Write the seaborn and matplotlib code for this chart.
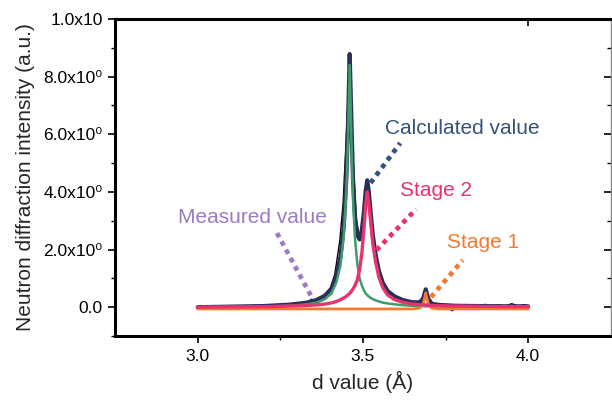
import matplotlib
matplotlib.use("Agg")
import matplotlib.pyplot as plt
import seaborn as sns
import pandas as pd

# ---------------- data ----------------
x_meas = [3.00, 3.01, 3.02, 3.03, 3.05, 3.07, 3.09, 3.11, 3.13, 3.15, 3.17, 3.19, 3.21, 3.23,
          3.25, 3.27, 3.29, 3.31, 3.33, 3.345, 3.355, 3.365, 3.375, 3.385, 3.40, 3.415, 3.43,
          3.44, 3.45, 3.46, 3.47, 3.48, 3.49, 3.50, 3.51, 3.52, 3.53, 3.545, 3.56, 3.58, 3.60,
          3.62, 3.64, 3.66, 3.675, 3.685, 3.69, 3.70, 3.71, 3.73, 3.75, 3.77, 3.79, 3.81, 3.83,
          3.85, 3.87, 3.89, 3.91, 3.93, 3.95, 3.97, 3.99, 4.00]
y_meas = [0.02, 0.06, -0.03, 0.04, -0.02, 0.03, -0.05, 0.02, -0.06, 0.01, -0.04, 0.03, -0.05, 0.02,
          -0.03, 0.05, 0.02, 0.06, 0.10, 0.28, 0.12, 0.20, 0.22, 0.30, 0.60, 1.15, 2.30,
          3.60, 6.00, 8.60, 5.20, 3.00, 2.40, 3.10, 4.30, 3.70, 2.60, 1.50, 0.90, 0.45, 0.28,
          0.18, 0.15, 0.12, 0.15, 0.40, 0.60, 0.25, 0.12, 0.08, 0.04, -0.12, 0.05, 0.02, 0.06,
          0.02, 0.10, 0.03, 0.08, 0.04, 0.12, 0.05, 0.09, 0.03]

x_fit = [3.00, 3.10, 3.20, 3.28, 3.33, 3.36, 3.385, 3.405, 3.42, 3.432, 3.442, 3.45, 3.455, 3.46,
         3.465, 3.47, 3.476, 3.483, 3.49, 3.497, 3.503, 3.508, 3.513, 3.518, 3.524, 3.53, 3.538,
         3.548, 3.56, 3.575, 3.595, 3.62, 3.65, 3.672, 3.682, 3.69, 3.698, 3.708, 3.73, 3.78,
         3.85, 3.95, 4.00]
y_calc = [0.00, 0.02, 0.04, 0.09, 0.16, 0.25, 0.40, 0.65, 1.10, 1.75, 2.80, 4.50, 6.40, 8.78,
          6.55, 4.45, 3.15, 2.50, 2.35, 2.70, 3.30, 4.00, 4.40, 4.00, 3.20, 2.50, 1.85,
          1.27, 0.85, 0.56, 0.38, 0.25, 0.17, 0.17, 0.30, 0.62, 0.30, 0.12, 0.08, 0.05,
          0.04, 0.03, 0.03]
y_stage3 = [0.00, 0.01, 0.02, 0.05, 0.10, 0.16, 0.28, 0.48, 0.88, 1.45, 2.45, 4.05, 5.90, 8.40,
            5.90, 3.75, 2.40, 1.50, 1.00, 0.75, 0.58, 0.48, 0.42, 0.37, 0.32, 0.28, 0.24,
            0.20, 0.16, 0.13, 0.10, 0.07, 0.05, 0.04, 0.04, 0.03, 0.03, 0.03, 0.03, 0.02,
            0.02, 0.01, 0.01]
y_stage2 = [0.00, 0.01, 0.02, 0.04, 0.06, 0.08, 0.11, 0.15, 0.20, 0.26, 0.32, 0.38, 0.43, 0.48,
            0.55, 0.63, 0.75, 0.95, 1.30, 1.90, 2.70, 3.50, 4.00, 3.60, 2.90, 2.20, 1.60,
            1.05, 0.68, 0.42, 0.27, 0.17, 0.11, 0.09, 0.08, 0.08, 0.07, 0.06, 0.05, 0.04,
            0.03, 0.02, 0.02]
y_stage1 = [-0.06, -0.06, -0.06, -0.06, -0.06, -0.06, -0.06, -0.06, -0.06, -0.06, -0.06, -0.06,
            -0.06, -0.06, -0.06, -0.06, -0.06, -0.06, -0.06, -0.06, -0.06, -0.06, -0.06, -0.06,
            -0.06, -0.06, -0.06, -0.06, -0.06, -0.06, -0.06, -0.06, -0.06, -0.03, 0.10, 0.50,
            0.10, -0.03, -0.06, -0.06, -0.06, -0.06, -0.06]

labels = ["Measured value", "Calculated value", "Stage 2", "Stage 1"]
label_xy = [(3.165, 3.1), (3.80, 6.2), (3.72, 4.06), (3.865, 2.26)]
leader_x = [(3.240, 3.345), (3.523, 3.613), (3.541, 3.661), (3.706, 3.802)]
leader_y = [(2.57, 0.35), (4.31, 5.69), (1.98, 3.40), (0.35, 1.63)]

y_ticks = [0, 2, 4, 6, 8, 10]
y_ticklabels = ["0.0", "2.0x10\u2070", "4.0x10\u2070", "6.0x10\u2070", "8.0x10\u2070", "1.0x10"]
x_ticks = [3.0, 3.5, 4.0]
x_ticklabels = ["3.0", "3.5", "4.0"]

# ---------------- style ----------------
sns.set_style("ticks")
plt.rcParams["font.family"] = ["Liberation Sans", "DejaVu Sans"]

C_MEAS = "#9b7bc4"
C_CALC = "#2b2e57"
C_CALC_TXT = "#35527f"
C_S3 = "#3d9b6c"
C_S2 = "#e8336c"
C_S1 = "#f27a30"
label_colors = [C_MEAS, C_CALC_TXT, C_S2, C_S1]

fig = plt.figure(figsize=(6.12, 4.01), dpi=100)
ax = fig.add_axes([0.188, 0.162, 0.810, 0.791])

sns.lineplot(x=x_meas, y=y_meas, ax=ax, color="black", lw=1.0, estimator=None, sort=False)
sns.lineplot(x=x_fit, y=y_calc, ax=ax, color=C_CALC, lw=3.0, estimator=None, sort=False)
sns.lineplot(x=x_fit, y=y_stage3, ax=ax, color=C_S3, lw=1.8, estimator=None, sort=False)
sns.lineplot(x=x_fit, y=y_stage1, ax=ax, color=C_S1, lw=2.0, estimator=None, sort=False)
sns.lineplot(x=x_fit, y=y_stage2, ax=ax, color=C_S2, lw=2.4, estimator=None, sort=False)

for lab, (tx, ty), lx, ly, c in zip(labels, label_xy, leader_x, leader_y, label_colors):
    ax.plot(lx, ly, color=c, lw=3.4, linestyle=(0, (1, 1.0)), dash_capstyle="butt")
    ax.text(tx, ty, lab, color=c, fontsize=15, ha="center", va="center")

ax.set_xlim(2.75, 4.25)
ax.set_ylim(-1, 10)
ax.set_xticks(x_ticks)
ax.set_xticklabels(x_ticklabels, fontsize=12.5)
ax.set_xticks([3.25, 3.75], minor=True)
ax.set_yticks(y_ticks)
ax.set_yticklabels(y_ticklabels, fontsize=12.5)
ax.set_yticks([-1, 1, 3, 5, 7, 9], minor=True)

ax.tick_params(axis="both", which="major", direction="out", length=5, width=1.2, color="black",
               pad=4, labelcolor="black")
ax.tick_params(axis="both", which="minor", direction="out", length=3, width=1.0, color="black")
ax.tick_params(axis="y", which="both", right=True, labelright=False)
ax.tick_params(axis="x", which="minor", top=False)

for side in ["left", "bottom", "top"]:
    ax.spines[side].set_visible(True)
    ax.spines[side].set_linewidth(2.2)
    ax.spines[side].set_color("black")
ax.spines["right"].set_visible(True)
ax.spines["right"].set_linewidth(1.0)
ax.spines["right"].set_color("#888888")

# right ticks inward
for t in ax.yaxis.get_major_ticks() + ax.yaxis.get_minor_ticks():
    t.tick2line.set_marker(matplotlib.lines.TICKLEFT)

# single top tick at 4.0 pointing into the axes
ax.plot([4.0], [10], marker=matplotlib.lines.TICKDOWN, markersize=5, mew=1.2, color="black",
        clip_on=False)

ax.set_xlabel("d value (\u00c5)", fontsize=15, labelpad=5)
ax.set_ylabel("Neutron diffraction intensity (a.u.)", fontsize=15, labelpad=6)

fig.savefig("out.png", dpi=100)
